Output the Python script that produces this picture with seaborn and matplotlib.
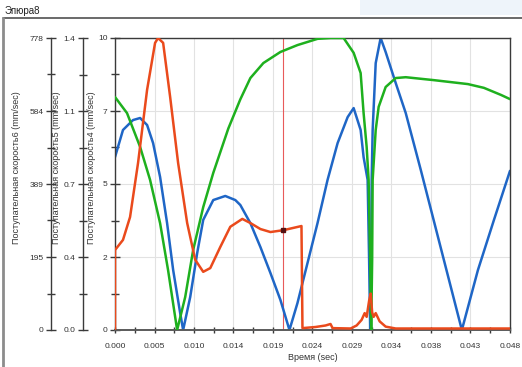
import numpy as np
import matplotlib.pyplot as plt
import matplotlib.patches as mpatches
import matplotlib.lines as mlines
import seaborn as sns
from matplotlib.ticker import FixedLocator

sns.set_style("white")
plt.rcParams['font.family'] = ['Liberation Sans', 'DejaVu Sans']

# values, time in sec
t_blue = [0.00000, 0.00097, 0.00219, 0.00305, 0.00390, 0.00463, 0.00548, 0.00633,
          0.00707, 0.00792, 0.00828, 0.00914, 0.00999, 0.01072, 0.01194, 0.01340,
          0.01462, 0.01523, 0.01645, 0.01767, 0.01889, 0.02010, 0.02120, 0.02217,
          0.02339, 0.02461, 0.02583, 0.02705, 0.02827, 0.02900, 0.02985, 0.03021,
          0.03070, 0.03088, 0.03101, 0.03113, 0.03119, 0.03131, 0.03168, 0.03228,
          0.03289, 0.03411, 0.03533, 0.03716, 0.03959, 0.04215, 0.04410, 0.04605,
          0.04800]
v_blue = [5.92, 6.85, 7.19, 7.26, 7.02, 6.40, 5.24, 3.66,
          2.05, 0.58, 0.00, 1.13, 2.64, 3.77, 4.45, 4.59,
          4.45, 4.28, 3.66, 2.84, 1.95, 1.03, 0.00, 0.92,
          2.29, 3.66, 5.14, 6.40, 7.29, 7.60, 6.85, 5.92,
          5.14, 2.40, 0.00, 2.40, 5.14, 6.85, 9.14, 10.0,
          9.52, 8.46, 7.43, 5.48, 2.81, 0.00, 2.05, 3.77,
          5.45]

t_green = [0.00000, 0.00146, 0.00305, 0.00426, 0.00548, 0.00645, 0.00755, 0.00853,
           0.00950, 0.01072, 0.01194, 0.01377, 0.01523, 0.01645, 0.01803, 0.02010,
           0.02217, 0.02461, 0.02619, 0.02778, 0.02900, 0.02985, 0.03021, 0.03058,
           0.03082, 0.03101, 0.03113, 0.03125, 0.03131, 0.03168, 0.03204, 0.03289,
           0.03411, 0.03533, 0.03874, 0.04289, 0.04483, 0.04691, 0.04800]
v_green = [1.117, 1.040, 0.878, 0.720, 0.512, 0.287, 0.000, 0.158,
           0.384, 0.589, 0.753, 0.966, 1.106, 1.208, 1.280, 1.333,
           1.366, 1.396, 1.400, 1.400, 1.329, 1.232, 1.040, 0.878,
           0.720, 0.336, 0.000, 0.336, 0.720, 0.959, 1.070, 1.165,
           1.208, 1.212, 1.198, 1.179, 1.161, 1.127, 1.107]

t_red = [0.00000, 0.00000, 0.00097, 0.00183, 0.00280, 0.00390, 0.00487, 0.00524,
         0.00585, 0.00670, 0.00767, 0.00877, 0.00975, 0.01072, 0.01158, 0.01279,
         0.01401, 0.01547, 0.01645, 0.01767, 0.01889, 0.02047, 0.02266, 0.02278,
         0.02437, 0.02558, 0.02619, 0.02644, 0.02863, 0.02936, 0.02997, 0.03034,
         0.03058, 0.03088, 0.03107, 0.03125, 0.03143, 0.03168, 0.03216, 0.03289,
         0.03411, 0.04800]
v_red = [0, 213, 240, 301, 445, 640, 765, 778,
         765, 621, 445, 285, 187, 155, 165, 221,
         275, 296, 285, 269, 261, 266, 277, 5,
         8, 12, 16, 5, 4, 12, 27, 45,
         35, 78, 97, 47, 35, 45, 23, 9,
         4, 4]

cursor_t = 0.02047

x_labels = ['0.000', '0.005', '0.010', '0.014', '0.019', '0.024',
            '0.029', '0.034', '0.038', '0.043', '0.048']
y4_ticks = [0, 2.5, 5, 7.5, 10]
y4_labels = ['0', '2', '5', '7', '10']
y5_ticks = [0, 0.35, 0.7, 1.05, 1.4]
y5_labels = ['0.0', '0.4', '0.7', '1.1', '1.4']
y6_ticks = [0, 194.5, 389, 583.5, 778]
y6_labels = ['0', '195', '389', '584', '778']

c_blue = '#1f66c6'
c_green = '#1eb01e'
c_red = '#ea4a1c'
txt = '#333333'
spine_c = '#3a3a3a'

fig = plt.figure(figsize=(5.22, 3.67), dpi=100)
ax = fig.add_axes([115 / 522, 37 / 367, 395 / 522, 292 / 367])
ax5 = ax.twinx()
ax6 = ax.twinx()

# window chrome: toolbar strip, frame lines, title
fig.patches.append(mpatches.Rectangle((360 / 522, 1 - 15 / 367), 162 / 522, 15 / 367,
                                      transform=fig.transFigure, color='#eef4fa', lw=0))
fig.lines.append(mlines.Line2D([3 / 522, 1], [1 - 18 / 367] * 2,
                               transform=fig.transFigure, color='#505050', lw=1.2))
fig.lines.append(mlines.Line2D([3 / 522] * 2, [0, 1 - 18 / 367],
                               transform=fig.transFigure, color='#8c8c8c', lw=2))
fig.text(5 / 522, 1 - 11 / 367, 'Эпюра8', fontsize=7, color='#222222', va='center')

# grid
x_ticks = np.linspace(0, 0.048, len(x_labels))
ax.set_xlim(0, 0.048)
ax.set_ylim(0, 10)
ax.set_xticks(x_ticks, x_labels)
ax.xaxis.set_minor_locator(FixedLocator((x_ticks[:-1] + x_ticks[1:]) / 2))
ax.set_yticks(y4_ticks, y4_labels)
ax.yaxis.set_minor_locator(FixedLocator([1.25, 3.75, 6.25, 8.75]))
ax.grid(True, which='major', color='#e2e2e2', lw=0.8)
ax.set_axisbelow(True)

ax.axvline(cursor_t, color='#e85a5a', lw=0.8, zorder=1)

sns.lineplot(x=t_blue, y=v_blue, ax=ax, color=c_blue, lw=1.8,
             sort=False, estimator=None)
sns.lineplot(x=t_green, y=v_green, ax=ax5, color=c_green, lw=1.8,
             sort=False, estimator=None)
sns.lineplot(x=t_red, y=v_red, ax=ax6, color=c_red, lw=1.8,
             sort=False, estimator=None)
ax6.plot([cursor_t], [np.interp(cursor_t, t_red[1:], v_red[1:])], 's',
         ms=2.5, color='#551111')

ax5.set_ylim(0, 1.4)
ax6.set_ylim(0, 778)
ax5.set_yticks(y5_ticks, y5_labels)
ax6.set_yticks(y6_ticks, y6_labels)
ax5.yaxis.set_minor_locator(FixedLocator([0.175, 0.525, 0.875, 1.225]))
ax6.yaxis.set_minor_locator(FixedLocator([97, 292, 486, 681]))

for a, off in [(ax5, 23), (ax6, 46)]:
    a.yaxis.set_ticks_position('left')
    a.yaxis.set_label_position('left')
    a.spines['left'].set_position(('outward', off))
    a.spines['left'].set_visible(True)
    for s in ['right', 'top', 'bottom']:
        a.spines[s].set_visible(False)
    a.spines['left'].set_color(spine_c)
    a.spines['left'].set_linewidth(1.0)

for s in ['left', 'top', 'right']:
    ax.spines[s].set_color(spine_c)
    ax.spines[s].set_linewidth(1.0)
ax.spines['bottom'].set_color('#5a5a5a')
ax.spines['bottom'].set_linewidth(1.4)

for a in [ax, ax5, ax6]:
    a.tick_params(axis='y', which='major', direction='inout', length=7, width=1,
                  labelsize=6, pad=2, colors=spine_c, labelcolor=txt)
    a.tick_params(axis='y', which='minor', direction='inout', length=6, width=1,
                  colors=spine_c, left=True)
ax.tick_params(axis='x', which='major', direction='inout', length=5, width=1,
               labelsize=6, pad=7, colors=spine_c, labelcolor=txt, bottom=True)
ax.tick_params(axis='x', which='minor', direction='inout', length=4, width=1,
               colors=spine_c, bottom=True)

ax.set_xlabel('Время (sec)', fontsize=6.5, color=txt, labelpad=2)
ax.set_ylabel('Поступательная скорость4 (mm/sec)', fontsize=6.5, color=txt)
ax5.set_ylabel('Поступательная скорость5 (mm/sec)', fontsize=6.5, color=txt)
ax6.set_ylabel('Поступательная скорость6 (mm/sec)', fontsize=6.5, color=txt)
# label anchor is the right edge of the rotated text
ax.yaxis.set_label_coords(-0.048, 0.555)
ax5.yaxis.set_label_coords(-0.137, 0.555)
ax6.yaxis.set_label_coords(-0.238, 0.555)

fig.savefig('out.png', dpi=100)
